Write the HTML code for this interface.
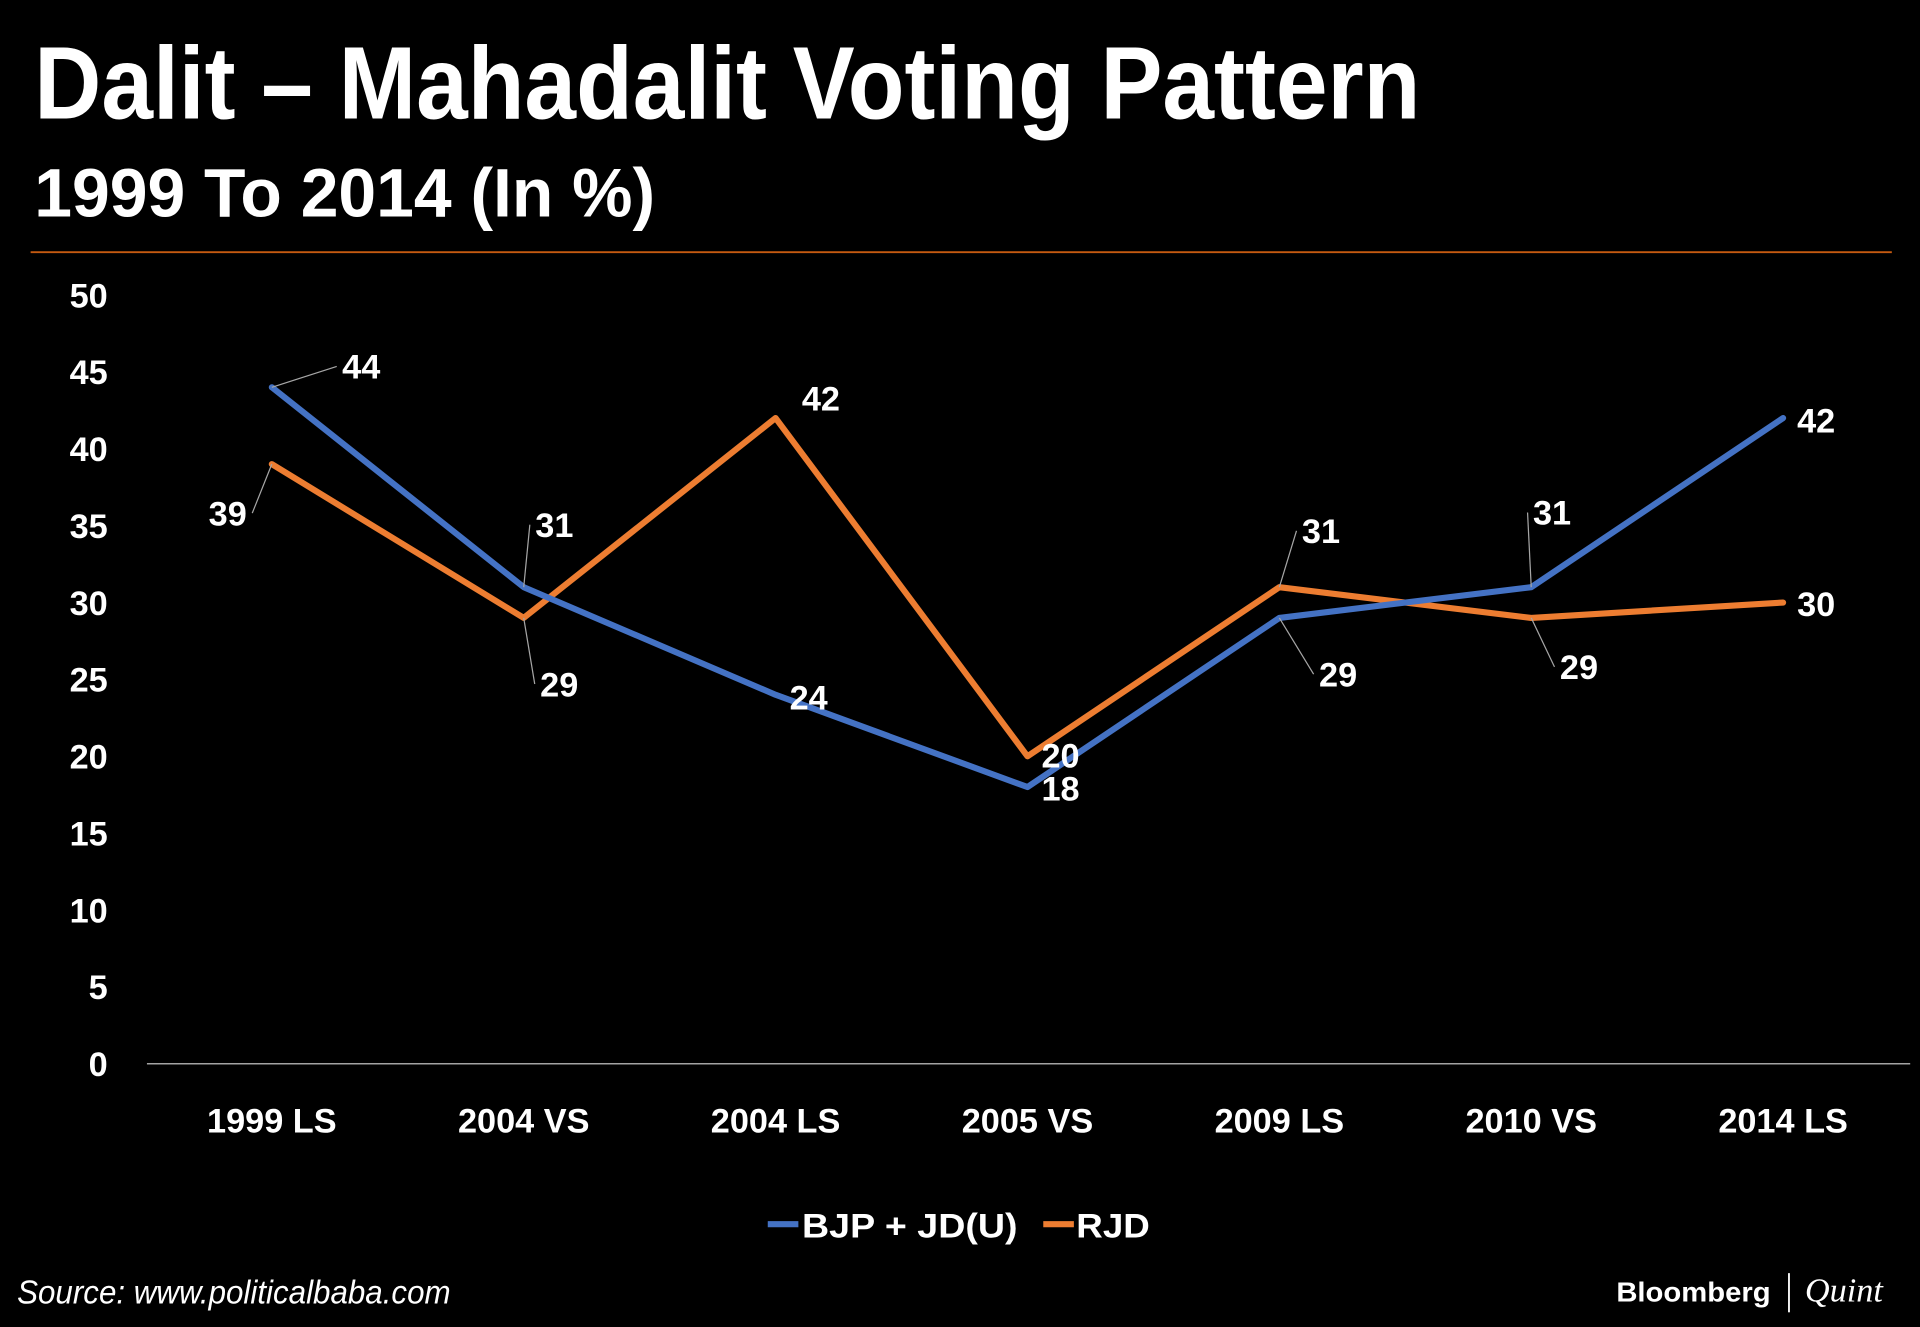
<!DOCTYPE html>
<html><head><meta charset="utf-8"><style>
html,body{margin:0;padding:0;background:#000;}
svg{display:block;}
text{font-family:"Liberation Sans",sans-serif;fill:#fff;}
</style></head><body>
<svg id="chart" width="1920" height="1327" viewBox="0 0 1568 1084" preserveAspectRatio="none" xmlns="http://www.w3.org/2000/svg">
<rect width="1568" height="1084" fill="#000"/>
<text x="28" y="97" font-size="84" font-weight="bold" textLength="1132" lengthAdjust="spacingAndGlyphs">Dalit – Mahadalit Voting Pattern</text>
<text x="28" y="177" font-size="56" font-weight="bold" textLength="507" lengthAdjust="spacingAndGlyphs">1999 To 2014 (In %)</text>
<line x1="25" y1="206" x2="1545" y2="206" stroke="#c55a11" stroke-width="1.5"/>
<g id="axes"></g>
<g id="series"></g>
<g id="labels"></g>
<g>
<line x1="627" y1="1000" x2="652" y2="1000" stroke="#4472c4" stroke-width="5"/>
<text x="655" y="1011" font-size="28" font-weight="bold" textLength="176" lengthAdjust="spacingAndGlyphs">BJP + JD(U)</text>
<line x1="852" y1="1000" x2="877" y2="1000" stroke="#ed7d31" stroke-width="5"/>
<text x="879" y="1011" font-size="28" font-weight="bold" textLength="60" lengthAdjust="spacingAndGlyphs">RJD</text>
</g>
<text x="14" y="1065" font-size="27" font-style="italic" textLength="354" lengthAdjust="spacingAndGlyphs">Source: www.politicalbaba.com</text>
<text x="1320" y="1063" font-size="23" font-weight="bold" textLength="126" lengthAdjust="spacingAndGlyphs">Bloomberg</text>
<line x1="1461" y1="1040" x2="1461" y2="1072" stroke="#fff" stroke-width="1.5"/>
<text x="1474" y="1063" font-size="28" font-style="italic" font-family="Liberation Serif, serif" style="font-family:'Liberation Serif',serif">Quint</text>
</svg>
<script>
const categories=["1999 LS","2004 VS","2004 LS","2005 VS","2009 LS","2010 VS","2014 LS"];
const bjpValues=[44,31,24,18,29,31,42];
const rjdValues=[39,29,42,20,31,29,30];
const yTicks=[0,5,10,15,20,25,30,35,40,45,50];
const NS="http://www.w3.org/2000/svg";
const x0=222,xStep=205.7,yZero=869,yPer=12.56;
const xs=i=>x0+i*xStep, ys=v=>yZero-v*yPer;
function mk(tag,attrs,parent){const e=document.createElementNS(NS,tag);for(const k in attrs)e.setAttribute(k,attrs[k]);parent.appendChild(e);return e;}
const axes=document.getElementById('axes'),series=document.getElementById('series'),labels=document.getElementById('labels');
const axisLine=mk('line',{x1:120,y1:yZero,x2:1560,y2:yZero,stroke:'#d9d9d9','stroke-width':1},axes);


yTicks.forEach(t=>{const e=mk('text',{x:88,y:ys(t)+10,'font-size':28,'font-weight':'bold','text-anchor':'end'},axes);e.textContent=t;

});
categories.forEach((c,i)=>{const e=mk('text',{x:xs(i),y:925,'font-size':28,'font-weight':'bold','text-anchor':'middle'},axes);e.textContent=c;

});
function drawSeries(vals,color,name){const p=mk('polyline',{points:vals.map((v,i)=>xs(i)+','+ys(v)).join(' '),fill:'none',stroke:color,'stroke-width':5,'stroke-linejoin':'round','stroke-linecap':'round'},series);

}
drawSeries(rjdValues,'#ed7d31','rjd-line');
drawSeries(bjpValues,'#4472c4','bjp-line');
// label offsets (dx,dy of label center from point) and leader flag
const bjpOff=[[73,-17,1],[25,-51,1],[27,2,0],[27,1,0],[48,46,1],[17,-61,1],[27,2,0]];
const rjdOff=[[-36,40,1],[29,54,1],[37,-16,0],[27,-1,0],[34,-46,1],[39,40,1],[27,1,0]];
function drawLabels(vals,off,name){vals.forEach((v,i)=>{const px=xs(i),py=ys(v),o=off[i];const lx=px+o[0],ly=py+o[1];
if(o[2]){const ex=lx+(o[0]>0?-20:20),ey=ly;const l=mk('polyline',{points:px+','+py+' '+(ex+(o[0]>0?-8:8)*0)+','+ey+' '+ex+','+ey,fill:'none',stroke:'#a6a6a6','stroke-width':1},labels);

}
const t=mk('text',{x:lx,y:ly+10,'font-size':28,'font-weight':'bold','text-anchor':'middle'},labels);t.textContent=v;

});}
drawLabels(bjpValues,bjpOff,'bjp');
drawLabels(rjdValues,rjdOff,'rjd');
</script>
</body></html>
